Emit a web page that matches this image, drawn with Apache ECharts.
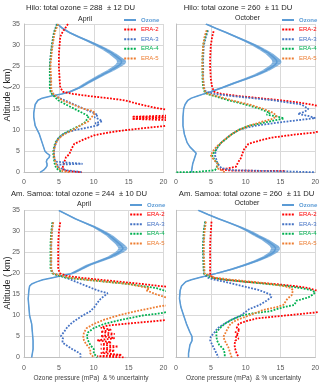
<!DOCTYPE html>
<html><head><meta charset="utf-8">
<script src="https://cdn.jsdelivr.net/npm/echarts@6/dist/echarts.min.js"></script>
<style>html,body{margin:0;padding:0;background:#fff}#c{width:320px;height:385px}</style>
</head><body><div id="c"></div>
<script>
// ---------- data: [value, altitude] ----------
const seriesNames = ['Ozone', 'ERA-2', 'ERA-3', 'ERA-4', 'ERA-5'];
const xTicks = [0, 5, 10, 15, 20];
const yTicks = [0, 5, 10, 15, 20, 25, 30, 35];

// Panel 1: Hilo April
const hiloAprOzone = [[4.8,35],[5.5,34],[6.5,33],[7.8,32],[9.2,31],[10.5,30],[11.7,29],[12.7,28],[13.5,27],[13.9,26.5],[14.0,26],[13.8,25.5],[13.4,25],[12.4,24],[11.2,23],[10.1,22],[9.0,21],[8.0,20],[6.6,19],[5.4,18.5],[3.9,18],[2.6,17.5],[2.0,17],[1.6,16],[1.5,15],[1.4,14],[1.4,13],[1.5,12],[1.6,11],[1.9,10],[2.2,9],[2.4,8],[2.6,7],[2.8,6],[3.0,5],[3.3,4.5],[3.7,4],[3.6,3.5],[3.3,3],[3.2,2.5],[3.3,2],[3.3,1.5],[3.1,1],[2.8,0.5],[2.3,0]];
const hiloAprOzoneErr = [0.15,0.2,0.25,0.3,0.35,0.45,0.5,0.55,0.6,0.65,0.65,0.65,0.6,0.55,0.5,0.45,0.4,0.35,0.3,0.2,0.15,0.1,0.08,0.06,0.06,0.06,0.06,0.06,0.06,0.06,0.06,0.06,0.06,0.06,0.06,0.06,0.06,0.06,0.06,0.06,0.06,0.06,0.06,0.06,0.06];
const hiloAprEra2 = [[6.3,35],[5.9,34],[5.5,33],[5.2,32],[5.1,30],[5.0,28],[5.0,25],[5.1,22],[5.2,20],[5.6,19],[7.0,18.5],[9.3,18],[12,17.5],[14.4,17],[16.7,16],[18.6,15.3],[21,14.6],[21,13.4],[15.5,13.1],[21,12.9],[21,12.8],[15.5,12.6],[21,12.3],[21,11.2],[20,10.9],[17,10.4],[13.8,9.8],[11.5,9.2],[10,8.7],[8.5,7.7],[7.2,6.7],[6.8,5.5],[6.5,4.3],[6.0,3.5],[5.8,2.5],[5.6,1.5],[5.5,0.8],[6.2,0.3],[8.3,0]];
const hiloAprEra3 = [[4.7,35],[4.3,33],[4.0,30],[3.8,27],[3.7,25],[3.8,22],[3.8,20],[3.9,19],[4.2,18.5],[4.4,18],[5.8,17],[7.2,16],[8.6,15],[10.0,14],[10.6,13.5],[10.1,13],[10.8,12.5],[11.2,12],[10.2,11.6],[10.8,11.2],[9.3,10.6],[7.4,10],[6.3,9.5],[5.6,9],[4.9,8],[4.6,7],[4.4,6],[4.3,5],[4.3,4],[4.4,3],[4.6,2.5],[4.8,2.1],[8.4,2.0],[4.8,1.8],[4.8,1.3],[5.2,1],[6.0,0.5],[8.4,0]];
const hiloAprEra4 = [[4.8,35],[4.3,33],[4.0,30],[3.8,27],[3.7,25],[3.7,22],[3.7,20],[3.8,19],[4.0,18.5],[4.3,18],[4.9,17],[6.0,16],[7.2,15],[8.4,14],[9.3,13.2],[9.0,12.5],[8.9,12],[8.0,11],[6.7,10],[5.6,9],[4.9,8],[4.5,7],[4.3,6],[4.2,5],[4.2,4],[4.3,3],[4.4,2],[4.6,1],[5.0,0.5],[5.5,0]];
const hiloAprEra5 = [[4.9,35],[4.4,33],[4.1,30],[3.9,27],[3.8,25],[3.9,22],[3.9,20],[4.0,19],[4.2,18.5],[4.6,18],[5.5,17],[7.0,16],[8.5,15],[9.8,14.5],[10.2,14],[9.7,13],[9.2,12],[8.0,11],[7.0,10],[5.8,9],[5.0,8],[4.6,7],[4.4,6],[4.3,5],[4.3,4],[4.4,3],[4.6,2],[4.9,1],[5.5,0.3],[6.5,0]];

// Panel 2: Hilo October
const hiloOctOzone = [[4.3,35],[5.7,34],[7.2,33],[8.6,32],[10.0,31],[11.3,30],[12.4,29],[13.4,28],[14.1,27],[14.4,26.5],[14.5,26],[14.3,25.5],[13.9,25],[12.9,24],[11.6,23],[10.0,22],[8.3,21],[6.7,20],[5.0,19],[4.0,18.5],[3.1,18],[2.2,17.5],[1.7,17],[1.3,16],[1.1,15],[1.0,13],[1.0,11],[1.2,9],[1.6,7],[2.0,6],[2.6,5],[2.9,4.5],[2.8,4],[2.6,3],[2.4,2],[2.3,1],[2.2,0]];
const hiloOctOzoneErr = [0.15,0.2,0.25,0.3,0.35,0.45,0.5,0.55,0.6,0.65,0.65,0.65,0.6,0.55,0.5,0.45,0.4,0.35,0.3,0.2,0.15,0.1,0.08,0.06,0.06,0.06,0.06,0.06,0.06,0.06,0.06,0.06,0.06,0.06,0.06,0.06,0.06];
const hiloOctEra2 = [[5.4,33.3],[5.2,32],[5.0,30],[4.9,27],[4.9,25],[5.0,22],[5.2,20],[5.5,19],[6.5,18.5],[9,18],[12,17.5],[15,17],[17.5,16.5],[19.5,16],[21,15.4],[21,10],[20,9.4],[17,8.9],[13.8,8.2],[12,7.5],[10.4,6.7],[9.8,5.5],[9.6,4.7],[9.3,3.3],[8.9,2.3],[8.6,1.3],[7.3,0.9],[6.3,0.7],[8,0.4],[15.8,0.3]];
const hiloOctEra3 = [[4.6,33.5],[4.3,32],[4.0,30],[3.9,27],[3.9,25],[3.9,22],[4.0,20],[4.3,19],[5.5,18.5],[8,18],[11,17.5],[14,17],[16,16.5],[18,16],[19,15],[18.5,14.3],[17.5,13.8],[19,13.3],[20,12.8],[17.5,12.3],[14,11.6],[11.5,11],[10,10.5],[9,10],[8,9],[7.2,8],[6.5,7],[6,6],[5.7,5],[5.6,4],[5.8,3],[6,2],[6.5,1],[8,0.5],[16,0.2],[20,0]];
const hiloOctEra4 = [[4.5,33.5],[4.2,32],[3.9,30],[3.8,27],[3.8,25],[3.8,22],[3.9,20],[4.1,19],[4.5,18.5],[5.5,18],[7.5,17],[10,16],[12,15],[13.5,14],[13,13.6],[14.5,13.2],[15.5,12.7],[14,12.2],[12,11.5],[10.5,11],[9,10],[8,9],[7.3,8],[6.5,7],[6,6],[5.6,5],[5.2,4],[5.5,3],[6,2],[5.8,1],[5.6,0.5],[3,0.1],[0,0]];
const hiloOctEra5 = [[4.4,33.5],[4.1,32],[3.9,30],[3.8,27],[3.8,25],[3.9,22],[4.0,20],[4.2,19],[4.6,18.5],[5.8,18],[8,17],[10.5,16],[12.5,15],[14,14],[14.5,13.2],[13.8,12.6],[12.5,12],[10.5,11],[9,10],[8,9],[7.2,8],[6.5,7],[5.8,6],[5.3,5],[5.0,4],[5.4,3],[6,2],[5.9,1],[6.5,0.5],[7,0]];

// Panel 3: Am. Samoa April
const samoaAprOzone = [[5.0,35],[6.2,34],[7.4,33],[8.8,32],[10.2,31],[11.3,30],[12.3,29],[13.0,28],[13.7,27],[14.0,26.5],[14.2,26],[14.0,25.5],[13.6,25],[12.5,24],[10.9,23],[9.3,22],[8.1,21],[6.9,20],[5.5,19.5],[4.1,19],[2.7,18.5],[1.8,18],[1.1,17.5],[0.8,17],[0.7,16],[0.6,14],[0.7,12],[0.8,10],[1.1,8],[1.2,6],[1.3,4],[1.3,2],[1.1,0]];
const samoaAprOzoneErr = [0.15,0.2,0.25,0.3,0.35,0.45,0.5,0.55,0.6,0.65,0.65,0.65,0.6,0.55,0.5,0.45,0.4,0.35,0.3,0.2,0.15,0.1,0.08,0.06,0.06,0.06,0.06,0.06,0.06,0.06,0.06,0.06,0.06];
const samoaAprEra2 = [[5.2,32.2],[5.0,30],[4.9,27],[4.9,25],[4.9,21],[5.2,20],[6,19.5],[8,19],[11,18.5],[14,18],[17,17.5],[19.5,17],[21,16.8],[21,9],[19,8.7],[15,8.1],[12,7.6],[11,7.1],[12.5,6.6],[11,6.1],[13,5.6],[11,5.1],[13,4.6],[10.5,4.1],[12.5,3.6],[11,3.1],[13.5,2.6],[11,2.1],[13,1.6],[11,1.1],[14,0.6],[10.5,0.3],[14.5,0]];
const samoaAprEra3 = [[4.1,32.2],[4.0,30],[3.9,27],[3.9,25],[3.9,21],[4.2,20],[5,19.5],[6,19],[7.5,18],[9,17],[10.5,16],[12,15.3],[11.8,15],[11,14],[10.5,13],[10.2,12.2],[9.5,11],[8.3,9.9],[7.5,9],[6.9,8.3],[6.2,7.2],[6.0,6.7],[5.6,5.8],[5.3,5.1],[5.6,4.5],[5.5,3.6],[6.0,3],[6.9,2],[7.8,1.2],[8.1,0.8],[8.1,0]];
const samoaAprEra4 = [[4.1,32.2],[3.9,30],[3.8,27],[3.8,25],[3.8,21],[4.1,20],[6,19],[9,18.5],[12,18],[15,17.5],[17,17],[19,16.5],[20,16],[21,15.5],[21,11],[19.5,10.5],[17,10],[14,9],[11.5,8],[10,7],[9.2,6],[9.0,5],[9.2,4],[9.5,3],[10,2],[10,1],[10.5,0]];
const samoaAprEra5 = [[4.2,32.2],[4.0,30],[3.9,27],[3.9,25],[3.9,21],[4.2,20],[6.5,19],[9,18.5],[12,18],[15,17.5],[16.5,17],[18,16.5],[17.5,16],[19,15],[20,14.5],[21,14],[21,12.5],[19.5,12.2],[16,11],[13.5,10],[11.5,9],[10,8],[9,7],[8.6,6],[8.5,5],[8.6,4],[9,3],[9.5,2],[9.5,1],[10,0]];

// Panel 4: Am. Samoa October
const samoaOctOzone = [[3.2,35],[4.6,34],[6.1,33],[7.7,32],[9.2,31],[10.5,30],[11.6,29],[12.8,28],[13.7,27],[14.1,26.5],[14.3,26],[14.2,25.5],[14.0,25],[13.0,24],[11.6,23],[9.9,22],[8.0,21],[5.8,20],[3.4,19],[2.2,18.5],[1.4,18],[0.8,17],[0.6,16],[0.5,14],[0.7,12],[1.1,10],[1.5,8],[2.0,6],[2.3,5],[2.3,4],[2.0,3],[1.9,2],[1.8,1],[1.8,0]];
const samoaOctOzoneErr = [0.15,0.2,0.25,0.3,0.35,0.45,0.5,0.55,0.6,0.65,0.65,0.65,0.6,0.55,0.5,0.45,0.4,0.35,0.25,0.15,0.1,0.08,0.06,0.06,0.06,0.06,0.06,0.06,0.06,0.06,0.06,0.06,0.06,0.06];
const samoaOctEra2 = [[5.1,32.3],[5.0,30],[4.9,27],[4.9,25],[4.9,20],[5.2,19],[7,18.5],[10,18],[14,17.5],[17,17],[19,16.5],[20,16],[21,15.7],[21,11],[20,10.7],[17,10.2],[14,9.7],[11.6,9.3],[10,8.6],[9,8],[8.7,7],[9.2,6.5],[8.5,6],[9,5.5],[8.5,5],[9,4.5],[8.5,4],[8.4,3],[8.5,2],[8.7,1],[9,0]];
const samoaOctEra3 = [[4.2,32.3],[4.0,30],[3.9,27],[3.9,25],[4.0,20],[4.5,19],[5.5,18.5],[7,18],[9.5,17],[12,16],[13.5,15],[13.7,14.4],[13,13.5],[12,12.5],[10.5,11.5],[9.4,10.1],[8,9],[7,8.1],[6,7],[5.4,5.7],[5.0,5],[4.9,4.1],[5.2,3],[5.6,1.7],[6.1,0]];
const samoaOctEra4 = [[4.2,32.3],[4.0,30],[3.9,27],[3.9,25],[4.0,20],[5,19],[7,18.5],[10,18],[13,17.5],[16,17],[18,16.5],[19.5,16],[20,15.5],[19.5,14.8],[19,14.3],[17.3,13.5],[17,12.5],[15.5,12],[13.5,11],[11,10.5],[9.5,10],[8,9],[7,8],[6.3,7],[5.8,6],[5.8,5],[5.9,4],[6.2,3],[6.8,2],[7,1],[7,0]];
const samoaOctEra5 = [[4.3,32.3],[4.1,30],[4.0,27],[4.0,25],[4.1,20],[5.5,19],[8,18.5],[11,18],[13.5,17.5],[15.5,17],[16.5,16.5],[16.8,16],[16.6,14.8],[16,14],[15.4,12.5],[14.5,12],[12.5,11.3],[10.5,10],[8.7,8.9],[7.8,8],[7.3,6.5],[6.8,4.9],[7.0,4],[7.5,2.5],[7.8,1],[8,0]];

const panelTitles = ['Hilo: total ozone = 288  \u00b1 12 DU', 'Hilo: total ozone = 260  \u00b1 11 DU', 'Am. Samoa: total ozone = 244  \u00b1 10 DU', 'Am. Samoa: total ozone = 260  \u00b1 11 DU'];
const panelMonths = ['April', 'October', 'April', 'October'];
const yAxisTitle = 'Altitude ( km)';
const xAxisTitle = 'Ozone pressure (mPa)  & % uncertainty';

// ---------- layout / style ----------
const FONT = '"Liberation Sans", Arial, sans-serif';
const colors = {'Ozone':'#5b9bd5','ERA-2':'#ff0000','ERA-3':'#4472c4','ERA-4':'#00b050','ERA-5':'#ed7d31'};
const panels = [
  {oz: hiloAprOzone, err: hiloAprOzoneErr, era: [hiloAprEra2, hiloAprEra3, hiloAprEra4, hiloAprEra5]},
  {oz: hiloOctOzone, err: hiloOctOzoneErr, era: [hiloOctEra2, hiloOctEra3, hiloOctEra4, hiloOctEra5]},
  {oz: samoaAprOzone, err: samoaAprOzoneErr, era: [samoaAprEra2, samoaAprEra3, samoaAprEra4, samoaAprEra5]},
  {oz: samoaOctOzone, err: samoaOctOzoneErr, era: [samoaOctEra2, samoaOctEra3, samoaOctEra4, samoaOctEra5]}
];
const grids = [
  {left: 24, top: 24, width: 139.5, height: 148.3},
  {left: 176, top: 24, width: 139.3, height: 148.3},
  {left: 24, top: 210.5, width: 139.5, height: 147},
  {left: 176, top: 210.3, width: 139.3, height: 147.2}
];
const legendPos = [{left: 124, top: 15.2}, {left: 282, top: 15.2}, {left: 130, top: 200.2}, {left: 282, top: 200.2}];
const titlePos = [{x: 80.5, y: 7.5, mx: 85, my: 19}, {x: 238, y: 7.5, mx: 247.5, my: 18.5}, {x: 79, y: 194, mx: 84, my: 204}, {x: 246.5, y: 194, mx: 247, my: 203.5}];

const dotIcon = 'path://M0,0h2v2h-2zM3.2,0h2v2h-2zM6.4,0h2v2h-2zM9.6,0h2v2h-2z';
const solidIcon = 'path://M0,0h12v2h-12z';

const option = {
  animation: false,
  backgroundColor: '#fff',
  grid: grids.map(g => Object.assign({outerBoundsMode: 'none', containLabel: false}, g)),
  xAxis: grids.map((g, i) => ({
    gridIndex: i, type: 'value', min: xTicks[0], max: xTicks[xTicks.length - 1], interval: 5,
    axisLine: {show: true, onZero: false, lineStyle: {color: '#bfbfbf', width: 1}},
    axisTick: {show: false},
    splitLine: {show: true, lineStyle: {color: '#d9d9d9', width: 1}},
    axisLabel: {fontSize: 7, color: '#595959', fontFamily: FONT, margin: i < 2 ? 6 : 7}
  })),
  yAxis: grids.map((g, i) => ({
    gridIndex: i, type: 'value', min: yTicks[0], max: yTicks[yTicks.length - 1], interval: 5,
    axisLine: {show: true, onZero: false, lineStyle: {color: '#bfbfbf', width: 1}},
    axisTick: {show: false},
    splitLine: {show: true, lineStyle: {color: '#d9d9d9', width: 1}},
    axisLabel: {show: i % 2 === 0, fontSize: 7, color: '#595959', fontFamily: FONT, margin: 4}
  })),
  legend: panels.map((p, i) => ({
    orient: 'vertical', left: legendPos[i].left, top: legendPos[i].top, padding: 0, itemGap: 0,
    itemWidth: 12, itemHeight: 2,
    textStyle: {fontSize: 6, fontFamily: FONT, lineHeight: 9.6},
    selectedMode: false,
    data: seriesNames.map(n => ({
      name: n,
      icon: n === 'Ozone' ? solidIcon : dotIcon,
      itemStyle: {color: colors[n]},
      textStyle: {color: colors[n], fontWeight: n === 'Ozone' ? 'bold' : 'normal'}
    }))
  })),
  series: [],
  graphic: []
};

panels.forEach((p, i) => {
  const ozData = p.oz.map((d, k) => [d[0], d[1], p.err[k]]);
  option.series.push({
    type: 'custom', name: 'band' + i, xAxisIndex: i, yAxisIndex: i, clip: true, silent: true, z: 1,
    data: ozData,
    renderItem: (params, api) => {
      const k = params.dataIndex;
      if (k >= ozData.length - 1) return null;
      const a = ozData[k], b = ozData[k + 1];
      const pts = [api.coord([a[0] - a[2], a[1]]), api.coord([b[0] - b[2], b[1]]), api.coord([b[0] + b[2], b[1]]), api.coord([a[0] + a[2], a[1]])];
      return {type: 'polygon', shape: {points: pts}, style: {fill: '#5b9bd5', opacity: 0.8}};
    }
  });
  option.series.push({
    type: 'line', name: 'Ozone', xAxisIndex: i, yAxisIndex: i, data: p.oz, showSymbol: false, symbol: 'none',
    color: colors['Ozone'], lineStyle: {width: 1.5, color: colors['Ozone']}, clip: true, z: 2
  });
  p.era.forEach((arr, j) => {
    const n = seriesNames[j + 1];
    option.series.push({
      type: 'line', name: n, xAxisIndex: i, yAxisIndex: i, data: arr, showSymbol: false, symbol: 'none',
      color: colors[n], lineStyle: {width: 1.8, color: colors[n], type: [1.8, 1.4], cap: 'butt'}, clip: true, z: 3
    });
  });
  const tp = titlePos[i];
  option.graphic.push({type: 'text', x: tp.x, y: tp.y, style: {text: panelTitles[i], font: '7.7px ' + FONT, fill: '#262626', align: 'center', verticalAlign: 'middle'}});
  option.graphic.push({type: 'text', x: tp.mx, y: tp.my, style: {text: panelMonths[i], font: '7px ' + FONT, fill: '#262626', align: 'center', verticalAlign: 'middle'}});
});
option.graphic.push({type: 'text', x: 7.5, y: 95, rotation: Math.PI / 2, style: {text: yAxisTitle, font: '9px ' + FONT, fill: '#262626', align: 'center', verticalAlign: 'middle'}});
option.graphic.push({type: 'text', x: 7.5, y: 283, rotation: Math.PI / 2, style: {text: yAxisTitle, font: '9px ' + FONT, fill: '#262626', align: 'center', verticalAlign: 'middle'}});
option.graphic.push({type: 'text', x: 91, y: 378.3, style: {text: xAxisTitle, font: '6.5px ' + FONT, fill: '#404040', align: 'center', verticalAlign: 'middle'}});
option.graphic.push({type: 'text', x: 243.5, y: 378.3, style: {text: xAxisTitle, font: '6.5px ' + FONT, fill: '#404040', align: 'center', verticalAlign: 'middle'}});

const chart = echarts.init(document.getElementById('c'), null, {renderer: 'canvas', width: 320, height: 385});
chart.setOption(option);
</script>
</body></html>
